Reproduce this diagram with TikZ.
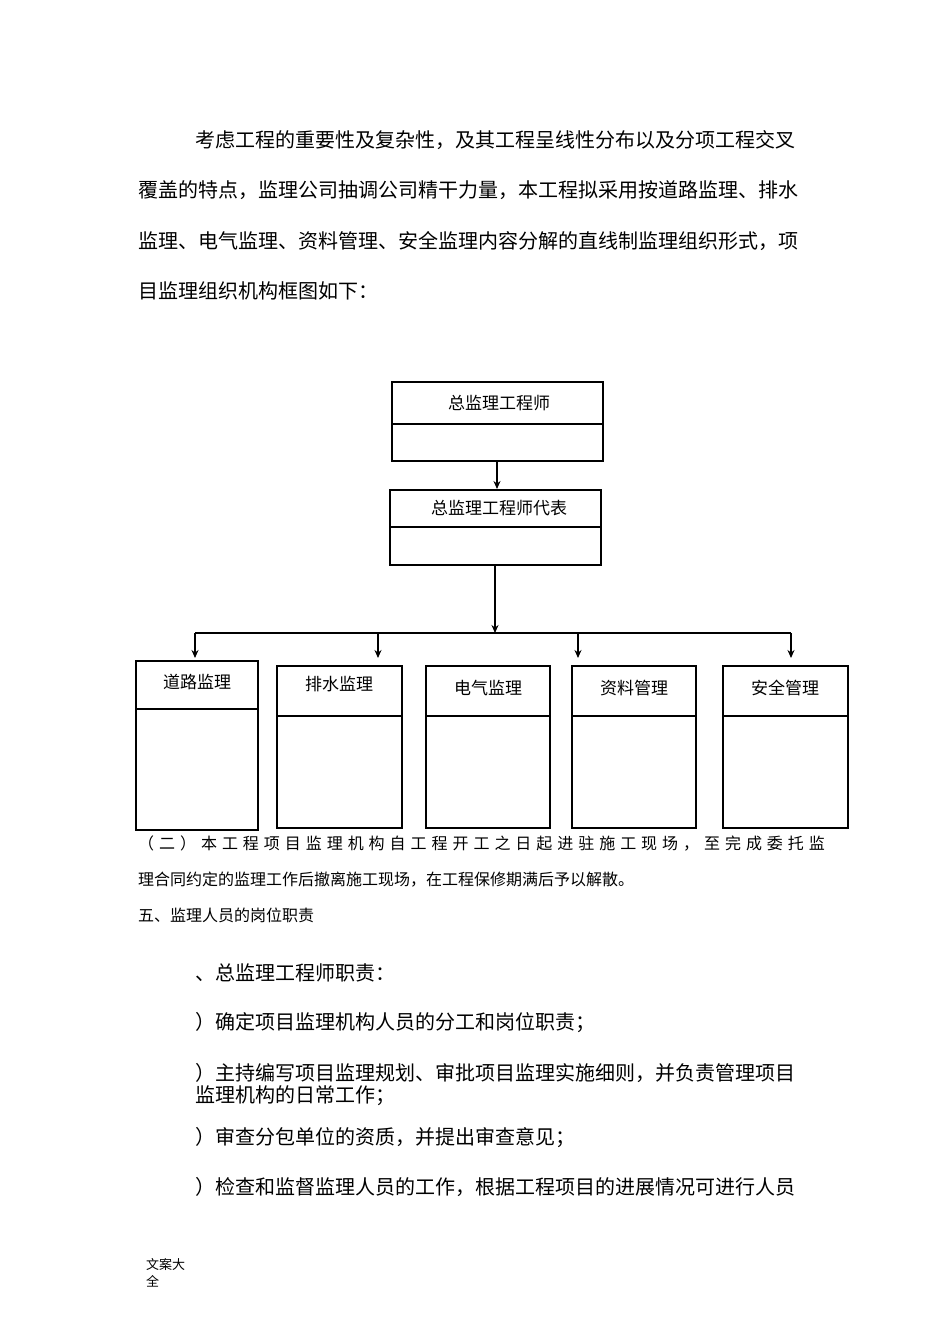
\documentclass[tikz,border=0pt]{standalone}
\usepackage{fontspec}
\usetikzlibrary{arrows.meta}
\setmainfont{Noto Sans CJK SC}
\newfontfamily\cj{Noto Sans CJK SC}
\newfontfamily\cjs[LetterSpace=31]{Noto Sans CJK SC}
\begin{document}
\begin{tikzpicture}[x=1pt,y=-1pt,
  para/.style={anchor=west,inner sep=0,font=\fontsize{20}{20}\selectfont},
  small/.style={anchor=west,inner sep=0,font=\fontsize{16}{16}\selectfont},
  box/.style={draw,line width=1.2pt},
  lbl/.style={font=\fontsize{17}{17}\selectfont,inner sep=0},
  arr/.style={-{Stealth[length=8pt,width=7pt]},line width=1.2pt}]
\useasboundingbox (0,0) rectangle (950,1344);
\node[para] (p1) at (195,140) {考虑工程的重要性及复杂性，及其工程呈线性分布以及分项工程交叉};
\node[para] (p2) at (138,190) {覆盖的特点，监理公司抽调公司精干力量，本工程拟采用按道路监理、排水};
\node[para] (p3) at (138,241) {监理、电气监理、资料管理、安全监理内容分解的直线制监理组织形式，项};
\node[para] (p4) at (138,291) {目监理组织机构框图如下：};
% top boxes
\draw[box] (392,382) rectangle (603,461); \draw[box] (392,424) -- (603,424);
\node[lbl] (b1) at (499,403) {总监理工程师};
\draw[box] (390,490) rectangle (601,565); \draw[box] (390,527) -- (601,527);
\node[lbl] (b2) at (499,508) {总监理工程师代表};
\coordinate (b1s) at (497,461); \coordinate (b2n) at (497,489);
\draw[arr] (b1s) -- (b2n);
\coordinate (b2s) at (495,565); \coordinate (hb) at (495,633);
\draw[arr] (b2s) -- (hb);
\draw[line width=1.2pt] (195,633) -- (791,633);
\foreach \x/\n in {195/a,378/b,578/d,791/e}{
  \coordinate (t\n) at (\x,633); \coordinate (h\n) at (\x,658);
  \draw[arr] (t\n) -- (h\n);}
% bottom boxes
\draw[box] (136,661) rectangle (258,830); \draw[box] (136,709) -- (258,709);
\node[lbl] (c1) at (197,682) {道路监理};
\draw[box] (277,666) rectangle (402,828); \draw[box] (277,716) -- (402,716);
\node[lbl] (c2) at (339,684) {排水监理};
\draw[box] (426,666) rectangle (550,828); \draw[box] (426,716) -- (550,716);
\node[lbl] (c3) at (488,688) {电气监理};
\draw[box] (572,666) rectangle (696,828); \draw[line width=2pt] (572,716) -- (696,716);
\node[lbl] (c4) at (634,688) {资料管理};
\draw[box] (723,666) rectangle (848,828); \draw[box] (723,716) -- (848,716);
\node[lbl] (c5) at (785,688) {安全管理};
% lower text
\node[anchor=west,inner sep=0,font=\cjs\fontsize{16}{16}\selectfont] (q1) at (138,843) {（二）本工程项目监理机构自工程开工之日起进驻施工现场，至完成委托监};
\node[small] (q2) at (138,880) {理合同约定的监理工作后撤离施工现场，在工程保修期满后予以解散。};
\node[small] (q3) at (138,915) {五、监理人员的岗位职责};
\node[para] (r1) at (195,973) {、总监理工程师职责：};
\node[para] (r2) at (195,1023) {）确定项目监理机构人员的分工和岗位职责；};
\node[para] (r3) at (195,1073) {）主持编写项目监理规划、审批项目监理实施细则，并负责管理项目};
\node[para] (r4) at (195,1096) {监理机构的日常工作；};
\node[para] (r5) at (195,1138) {）审查分包单位的资质，并提出审查意见；};
\node[para] (r6) at (195,1187) {）检查和监督监理人员的工作，根据工程项目的进展情况可进行人员};
\node[anchor=west,inner sep=0,font=\fontsize{13}{13}\selectfont] (f1) at (146,1264) {文案大};
\node[anchor=west,inner sep=0,font=\fontsize{13}{13}\selectfont] (f2) at (146,1281) {全};
\end{tikzpicture}
\end{document}
